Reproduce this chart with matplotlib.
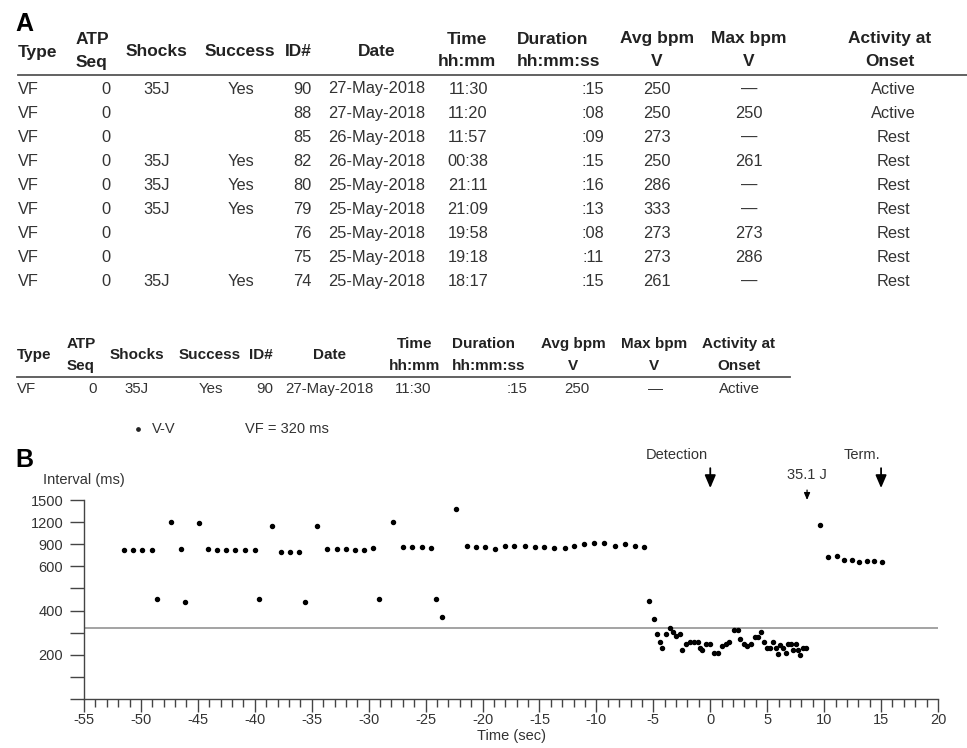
import numpy as np
import matplotlib
matplotlib.use('Agg')
import matplotlib.pyplot as plt
from matplotlib.lines import Line2D
from matplotlib.ticker import MultipleLocator, NullLocator

plt.rcParams['font.family'] = ['Liberation Sans', 'DejaVu Sans']
plt.rcParams['axes.unicode_minus'] = False

W, H = 967, 748

# ---- panel A: episode list ----
ep_type = ['VF'] * 9
atp_seq = ['0'] * 9
shocks = ['35J', '', '', '35J', '35J', '35J', '', '', '35J']
success = ['Yes', '', '', 'Yes', 'Yes', 'Yes', '', '', 'Yes']
ep_id = ['90', '88', '85', '82', '80', '79', '76', '75', '74']
dates = ['27-May-2018', '27-May-2018', '26-May-2018', '26-May-2018', '25-May-2018',
         '25-May-2018', '25-May-2018', '25-May-2018', '25-May-2018']
times = ['11:30', '11:20', '11:57', '00:38', '21:11', '21:09', '19:58', '19:18', '18:17']
durations = [':15', ':08', ':09', ':15', ':16', ':13', ':08', ':11', ':15']
avg_bpm = ['250', '250', '273', '250', '286', '333', '273', '273', '261']
max_bpm = ['—', '250', '—', '261', '—', '—', '273', '286', '—']
activity = ['Active', 'Active', 'Rest', 'Rest', 'Rest', 'Rest', 'Rest', 'Rest', 'Rest']

headers = [('Type',), ('ATP', 'Seq'), ('Shocks',), ('Success',), ('ID#',), ('Date',),
           ('Time', 'hh:mm'), ('Duration', 'hh:mm:ss'), ('Avg bpm', 'V'),
           ('Max bpm', 'V'), ('Activity at', 'Onset')]

# ---- panel B: V-V intervals of episode 90 ----
vf_zone = 320
t_sec = [-51.45, -50.7, -49.9, -49.0, -48.6, -47.4, -46.5, -46.1, -44.9, -44.1,
         -43.3, -42.5, -41.7, -40.85, -40.0, -39.6, -38.45, -37.7, -36.9, -36.1,
         -35.6, -34.5, -33.7, -32.8, -32.0, -31.2, -30.4, -29.6, -29.1, -27.9,
         -27.0, -26.2, -25.3, -24.5, -24.1, -23.6, -22.3, -21.4, -20.6, -19.75,
         -18.9, -18.06, -17.2, -16.3, -15.4, -14.6, -13.7, -12.8, -12.0, -11.1,
         -10.2, -9.3, -8.4, -7.5, -6.6, -5.8,
         -5.36, -4.97, -4.68, -4.45, -4.21, -3.92, -3.57, -3.31, -2.99, -2.69,
         -2.46, -2.17, -1.82, -1.46, -1.11, -0.88, -0.70, -0.38, 0.0, 0.35,
         0.70, 0.99, 1.34, 1.64, 2.05, 2.40, 2.63, 2.93, 3.22, 3.57,
         3.89, 4.15, 4.45, 4.74, 4.97, 5.27, 5.50, 5.79, 5.91, 6.15,
         6.38, 6.61, 6.82, 7.08, 7.26, 7.52, 7.67, 7.90, 8.14, 8.40,
         9.63, 10.3, 11.1, 11.77, 12.44, 13.1, 13.75, 14.4, 15.1]
interval_ms = [822, 815, 822, 822, 452, 1200, 837, 439, 1185, 837,
               822, 822, 822, 822, 815, 452, 1149, 795, 795, 795,
               439, 1149, 837, 837, 837, 815, 822, 845, 452, 1200,
               865, 859, 859, 850, 452, 370, 1374, 875, 859, 859,
               840, 875, 875, 882, 867, 867, 845, 850, 878, 897,
               912, 912, 875, 897, 882, 867,
               441, 361, 294, 260, 230, 294, 323, 305, 283, 294,
               220, 250, 256, 260, 260, 230, 220, 250, 250, 210,
               210, 241, 250, 260, 313, 313, 271, 250, 241, 250,
               280, 280, 301, 260, 230, 230, 260, 230, 203, 245,
               230, 210, 250, 250, 220, 250, 220, 200, 230, 230,
               1166, 728, 735, 692, 692, 656, 674, 674, 656]

y_ticks = [0, 100, 200, 300, 400, 500, 600, 900, 1200, 1500]
y_ticklabels = ['', '', '200', '', '400', '', '600', '900', '1200', '1500']

events = ['Detection', '35.1 J', 'Term.']
event_t = [0, 8.5, 15]


def fx(x):
    return x / W


def fy(y):
    return 1 - y / H


def draw_table(fig, cols, rows, y_h1, y_h2, y_one, y_rule, rule_x, row_y,
               fs_h, fs_v):
    for (hx, hha, vx, vha), head in zip(cols, headers):
        if len(head) == 1:
            fig.text(fx(hx), fy(y_one), head[0], ha=hha, va='center', fontsize=fs_h,
                     fontweight='bold', color='#222222')
        else:
            fig.text(fx(hx), fy(y_h1), head[0], ha=hha, va='center', fontsize=fs_h,
                     fontweight='bold', color='#222222')
            fig.text(fx(hx), fy(y_h2), head[1], ha=hha, va='center', fontsize=fs_h,
                     fontweight='bold', color='#222222')
    fig.add_artist(Line2D([fx(rule_x[0]), fx(rule_x[1])], [fy(y_rule)] * 2,
                          transform=fig.transFigure, color='#555555', lw=1.3))
    for r, ry in zip(rows, row_y):
        for (hx, hha, vx, vha), val in zip(cols, r):
            fig.text(fx(vx), fy(ry), val, ha=vha, va='center', fontsize=fs_v,
                     color='#333333')


fig = plt.figure(figsize=(W / 100, H / 100), dpi=100)

all_rows = list(zip(ep_type, atp_seq, shocks, success, ep_id, dates, times,
                    durations, avg_bpm, max_bpm, activity))

cols_a = [(18, 'left', 18, 'left'), (92, 'center', 110, 'right'),
          (157, 'center', 157, 'center'), (240, 'center', 241, 'center'),
          (312, 'right', 312, 'right'), (377, 'center', 377, 'center'),
          (467, 'center', 468, 'center'), (517, 'left', 604, 'right'),
          (657, 'center', 657, 'center'), (749, 'center', 749, 'center'),
          (890, 'center', 893, 'center')]
row_y_a = [89 + 24.1 * i for i in range(len(all_rows))]
draw_table(fig, cols_a, all_rows, 39, 62, 52, 75, (18, 967), row_y_a, 12.5, 11.8)

cols_b = [(17, 'left', 17, 'left'), (81, 'center', 97, 'right'),
          (137, 'center', 137, 'center'), (210, 'center', 211, 'center'),
          (273, 'right', 273, 'right'), (329, 'center', 329, 'center'),
          (415, 'center', 413, 'center'), (452, 'left', 528, 'right'),
          (573, 'center', 577, 'center'), (654, 'center', 655, 'center'),
          (739, 'center', 739, 'center')]
draw_table(fig, cols_b, all_rows[:1], 344, 366, 355, 377, (17, 790), [389],
           11, 10.8)

fig.text(fx(15), fy(24), 'A', fontsize=18, fontweight='bold', va='center', ha='left')
fig.text(fx(15), fy(460), 'B', fontsize=18, fontweight='bold', va='center', ha='left')

# legend line above panel B
fig.add_artist(Line2D([fx(138)], [fy(429)], transform=fig.transFigure, marker='o',
                      markersize=2.4, color='#222222', linestyle='none'))
fig.text(fx(152), fy(429), 'V-V', fontsize=10.5, color='#333333', va='center')
fig.text(fx(245), fy(429), 'VF = %d ms' % vf_zone, fontsize=10.5, color='#333333',
         va='center')

ax = fig.add_axes([fx(84), fy(699), (938 - 84) / W, (699 - 500) / H])


def fwd(v):
    v = np.asarray(v, dtype=float)
    return np.where(v <= 600, v, 600 + (v - 600) / 3.0)


def inv(u):
    u = np.asarray(u, dtype=float)
    return np.where(u <= 600, u, 600 + (u - 600) * 3.0)


ax.set_yscale('function', functions=(fwd, inv))
ax.set_ylim(0, 1500)
ax.set_xlim(-55, 20)

ax.axhline(vf_zone, color='#8a8a8a', lw=1.1, zorder=1)
ax.plot(t_sec, interval_ms, 'o', color='black', markersize=2.9, zorder=3)

ax.set_xticks(np.arange(-55, 21, 5))
ax.xaxis.set_minor_locator(MultipleLocator(1))
ax.set_yticks(y_ticks)
ax.set_yticklabels(y_ticklabels)
ax.yaxis.set_minor_locator(NullLocator())
ax.tick_params(axis='x', which='major', length=9, width=1, color='#444444',
               labelsize=10.5, labelcolor='#333333', pad=1)
ax.tick_params(axis='x', which='minor', length=6, width=1, color='#444444')
ax.tick_params(axis='y', which='major', length=10, width=1, color='#444444',
               labelsize=10.5, labelcolor='#333333', pad=5)
for side in ['top', 'right']:
    ax.spines[side].set_visible(False)
for side in ['left', 'bottom']:
    ax.spines[side].set_color('#444444')
    ax.spines[side].set_linewidth(1)
ax.set_facecolor('none')

fig.text(fx(43), fy(480), 'Interval (ms)', fontsize=10.5, color='#333333', va='center')
fig.text(fx(511), fy(736), 'Time (sec)', fontsize=10.5, color='#333333',
         va='center', ha='center')

# event markers above the plot
trans = ax.get_xaxis_transform()
big_arrow = dict(arrowstyle='-|>,head_width=0.3,head_length=0.7', color='black',
                 lw=1.3, mutation_scale=11, shrinkA=0, shrinkB=0)
small_arrow = dict(arrowstyle='-|>,head_width=0.3,head_length=0.7', color='black',
                   lw=0.9, mutation_scale=6, shrinkA=0, shrinkB=0)
ax.annotate('', xy=(event_t[0], 1.06), xytext=(event_t[0], 1.16), xycoords=trans,
            arrowprops=big_arrow, annotation_clip=False)
ax.text(event_t[0] - 2.9, 1.225, events[0], transform=trans, ha='center', va='center',
        fontsize=10.5, color='#333333')
ax.annotate('', xy=(event_t[1], 1.0), xytext=(event_t[1], 1.05), xycoords=trans,
            arrowprops=small_arrow, annotation_clip=False)
ax.text(event_t[1], 1.125, events[1], transform=trans, ha='center', va='center',
        fontsize=10.5, color='#333333')
ax.annotate('', xy=(event_t[2], 1.06), xytext=(event_t[2], 1.16), xycoords=trans,
            arrowprops=big_arrow, annotation_clip=False)
ax.text(event_t[2] - 1.7, 1.225, events[2], transform=trans, ha='center', va='center',
        fontsize=10.5, color='#333333')

fig.savefig('out.png', dpi=100)
plt.close(fig)
